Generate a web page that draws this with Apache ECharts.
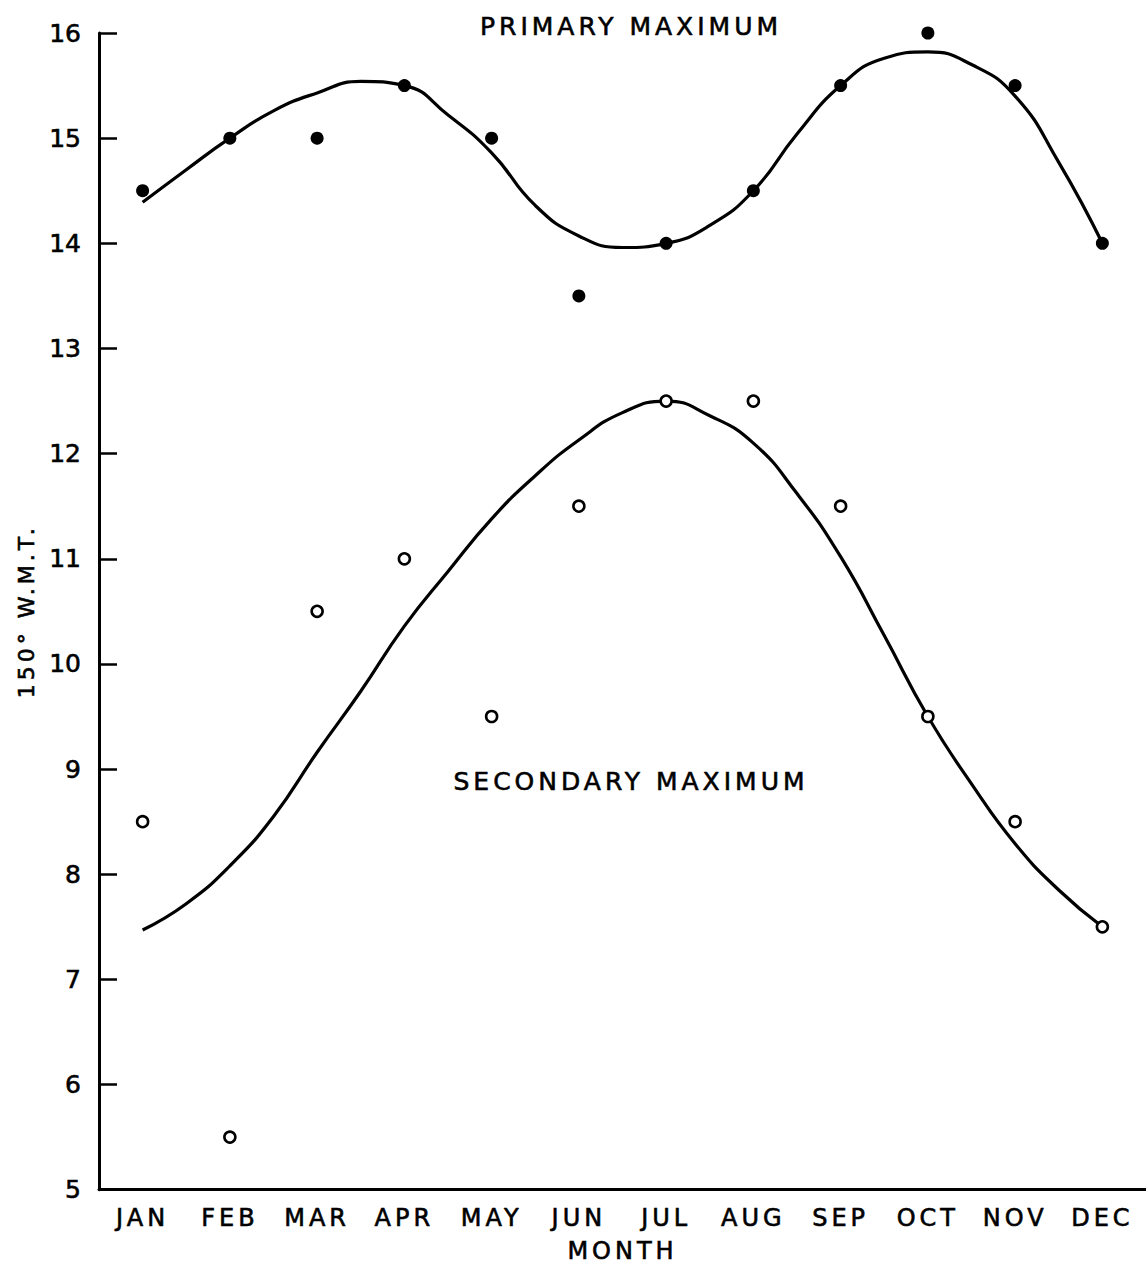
<!DOCTYPE html>
<html>
<head>
<meta charset="utf-8">
<script src="https://cdn.jsdelivr.net/npm/echarts@6/dist/echarts.min.js"></script>
<style>
  html, body { margin: 0; padding: 0; background: #fff; }
  #chart { width: 1146px; height: 1268px; }
  /* hand-lettered look: wide letter spacing on the words */
  #chart svg text { letter-spacing: 4px; }
  /* right-aligned hour numbers stay tight */
  #chart svg text[text-anchor="end"] { letter-spacing: 0; }
</style>
</head>
<body>
<div id="chart"></div>
<script>
// Month categories along the bottom axis
const months = ['JAN', 'FEB', 'MAR', 'APR', 'MAY', 'JUN', 'JUL', 'AUG', 'SEP', 'OCT', 'NOV', 'DEC'];

// Observed times of the primary (filled dots) and secondary (open circles) maxima
const primaryObs   = [14.5, 15.0, 15.0, 15.5, 15.0, 13.5, 14.0, 14.5, 15.5, 16.0, 15.5, 14.0];
const secondaryObs = [8.5, 5.5, 10.5, 11.0, 9.5, 11.5, 12.5, 12.5, 11.5, 9.5, 8.5, 7.5];

// Fitted curves, sampled at half-month steps (month index 0 = JAN)
const curveMonthIndex = [0, 0.5, 1, 1.5, 2, 2.5, 3, 3.5, 4, 4.5, 5, 5.5, 6, 6.5, 7, 7.5, 8, 8.5, 9, 9.5, 10, 10.5, 11];
const primaryCurve   = [14.39, 14.70, 15.00, 15.26, 15.43, 15.54, 15.50, 15.22, 14.86, 14.36, 14.07, 13.96, 14.00, 14.17, 14.50, 15.04, 15.50, 15.76, 15.82, 15.70, 15.40, 14.77, 14.00];
const secondaryCurve = [7.47, 7.72, 8.08, 8.55, 9.16, 9.74, 10.36, 10.88, 11.38, 11.79, 12.13, 12.39, 12.50, 12.36, 12.10, 11.62, 11.02, 10.27, 9.50, 8.86, 8.29, 7.85, 7.50];

// Hour axis range
const yMin = 5, yMax = 16, yStep = 1;

const FONT = 'DejaVu Sans';
const INK = '#000';
const LABEL = { color: INK, fontFamily: FONT, fontSize: 24, textBorderColor: INK, textBorderWidth: 0.6 };

const chart = echarts.init(document.getElementById('chart'), null, { renderer: 'svg' });

const pairs = (xs, ys) => xs.map((x, i) => [x, ys[i]]);

const fitLine = (name, values) => ({
  name,
  type: 'line',
  xAxisIndex: 1,
  data: pairs(curveMonthIndex, values),
  smooth: 0.5,
  smoothConstraint: false,
  showSymbol: false,
  lineStyle: { color: INK, width: 3.2 },
  z: 2
});

chart.setOption({
  animation: false,
  backgroundColor: '#fff',
  grid: { left: 99, right: -5, top: 33, bottom: 77, containLabel: false },
  xAxis: [
    {
      type: 'category',
      data: months,
      boundaryGap: true,
      name: 'MONTH',
      nameLocation: 'middle',
      nameGap: 49,
      nameTextStyle: LABEL,
      axisLine: { onZero: false, lineStyle: { color: INK, width: 3 } },
      axisTick: { inside: true, alignWithLabel: true, length: 17, lineStyle: { color: INK, width: 2.5 } },
      axisLabel: Object.assign({ margin: 16 }, LABEL),
      splitLine: { show: false }
    },
    {
      // Continuous month scale for the fitted curves, aligned with category centres
      type: 'value',
      min: -0.5,
      max: 11.5,
      show: false
    }
  ],
  yAxis: {
    type: 'value',
    min: yMin,
    max: yMax,
    interval: yStep,
    name: '150° W.M.T.',
    nameLocation: 'middle',
    nameGap: 62,
    nameRotate: 90,
    nameTextStyle: Object.assign({}, LABEL, { fontSize: 22 }),
    axisLine: { show: true, onZero: false, lineStyle: { color: INK, width: 3 } },
    axisTick: { show: true, inside: true, length: 18, lineStyle: { color: INK, width: 2.5 } },
    axisLabel: Object.assign({ margin: 18 }, LABEL, { fontSize: 25 }),
    splitLine: { show: false }
  },
  series: [
    fitLine('Primary fit', primaryCurve),
    fitLine('Secondary fit', secondaryCurve),
    {
      name: 'Primary maximum',
      type: 'scatter',
      xAxisIndex: 0,
      data: primaryObs,
      symbol: 'circle',
      symbolSize: 13,
      itemStyle: { color: INK, opacity: 1 },
      z: 5
    },
    {
      name: 'Secondary maximum',
      type: 'scatter',
      xAxisIndex: 0,
      data: secondaryObs,
      symbol: 'circle',
      symbolSize: 11,
      itemStyle: { color: '#fff', borderColor: INK, borderWidth: 2.6, opacity: 1 },
      z: 5
    }
  ],
  graphic: [
    {
      type: 'text',
      x: 631, y: 26,
      style: {
        text: 'PRIMARY MAXIMUM',
        fill: INK,
        stroke: INK,
        lineWidth: 0.6,
        font: '25px "' + FONT + '"',
        align: 'center',
        verticalAlign: 'middle'
      }
    },
    {
      type: 'text',
      x: 631, y: 781,
      style: {
        text: 'SECONDARY MAXIMUM',
        fill: INK,
        stroke: INK,
        lineWidth: 0.6,
        font: '25px "' + FONT + '"',
        align: 'center',
        verticalAlign: 'middle'
      }
    }
  ]
});
</script>
</body>
</html>
